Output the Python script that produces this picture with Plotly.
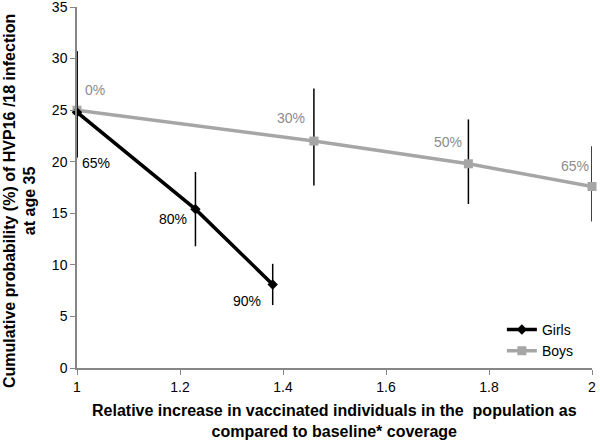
import plotly.graph_objects as go

girls_x = [1.0, 1.23, 1.38]
girls_y = [24.8, 15.4, 8.1]
girls_hi = [30.7, 19.0, 10.1]
girls_lo = [20.4, 11.8, 6.1]
girls_labels = ["65%", "80%", "90%"]

boys_x = [1.0, 1.46, 1.76, 2.0]
boys_y = [25.0, 22.0, 19.8, 17.6]
boys_hi = [30.7, 27.1, 24.1, 21.5]
boys_lo = [20.4, 17.7, 15.9, 14.2]
boys_labels = ["0%", "30%", "50%", "65%"]

x_title = "<b>Relative increase in vaccinated individuals in the  population as<br>compared to baseline* coverage</b>"
y_title = "<b>Cumulative probability (%) of HVP16 /18 infection<br>at age 35</b>"

GRAY = "#A6A6A6"
LABEL_GRAY = "#8C8C8C"

fig = go.Figure()
fig.add_trace(go.Scatter(
    x=boys_x, y=boys_y, name="Boys", mode="lines+markers", cliponaxis=False,
    line=dict(color=GRAY, width=3.5),
    marker=dict(symbol="square", size=9, color=GRAY),
    error_y=dict(type="data", symmetric=False,
                 array=[h - y for h, y in zip(boys_hi, boys_y)],
                 arrayminus=[y - l for l, y in zip(boys_lo, boys_y)],
                 color="black", thickness=1.5, width=0),
))
fig.add_trace(go.Scatter(
    x=girls_x, y=girls_y, name="Girls", mode="lines+markers", cliponaxis=False,
    line=dict(color="black", width=3.5),
    marker=dict(symbol="diamond", size=8, color="black"),
    error_y=dict(type="data", symmetric=False,
                 array=[h - y for h, y in zip(girls_hi, girls_y)],
                 arrayminus=[y - l for l, y in zip(girls_lo, girls_y)],
                 color="black", thickness=1.5, width=0),
))

boys_shift = [(18, 20), (-23, 23), (-20, 22), (-17, 20)]
for x, y, t, (dx, dy) in zip(boys_x, boys_y, boys_labels, boys_shift):
    fig.add_annotation(x=x, y=y, text=t, showarrow=False, xshift=dx, yshift=dy,
                       font=dict(color=LABEL_GRAY, size=14))
girls_shift = [(19, -51), (-22, -10), (-26, -17)]
for x, y, t, (dx, dy) in zip(girls_x, girls_y, girls_labels, girls_shift):
    fig.add_annotation(x=x, y=y, text=t, showarrow=False, xshift=dx, yshift=dy,
                       font=dict(color="black", size=14))

# axis titles as paper-anchored annotations
fig.add_annotation(xref="paper", yref="paper", x=0.5, y=-0.148, text=x_title,
                   showarrow=False, xanchor="center", yanchor="middle",
                   font=dict(size=16, color="black"))
fig.add_annotation(xref="paper", yref="paper", x=-0.111, y=0.462, text=y_title,
                   showarrow=False, xanchor="center", yanchor="middle", textangle=-90,
                   font=dict(size=16, color="black"))

fig.update_layout(
    width=600, height=440,
    margin=dict(l=77, r=8, t=7, b=72, autoexpand=False),
    plot_bgcolor="white", paper_bgcolor="white",
    font=dict(family="Liberation Sans, Arial, sans-serif", size=14, color="black"),
    showlegend=True,
    legend=dict(x=0.825, y=0.15, xanchor="left", yanchor="top",
                traceorder="reversed", font=dict(size=14),
                bgcolor="rgba(0,0,0,0)", itemwidth=30, tracegroupgap=0),
    xaxis=dict(range=[1, 2], tick0=1, dtick=0.2, showgrid=False, zeroline=False,
               showline=True, linecolor="#868686", linewidth=1.5, automargin=False,
               ticks="outside", ticklen=5, tickcolor="#868686", ticklabeloverflow="allow"),
    yaxis=dict(range=[0, 35], dtick=5, showgrid=False, zeroline=False,
               showline=True, linecolor="#868686", linewidth=1.5, automargin=False,
               ticks="outside", ticklen=5, tickcolor="#868686", ticklabeloverflow="allow"),
)

fig.write_html("out.html", config={"displayModeBar": False},
               post_script="document.body.style.margin='0px';document.body.style.overflow='hidden';")
